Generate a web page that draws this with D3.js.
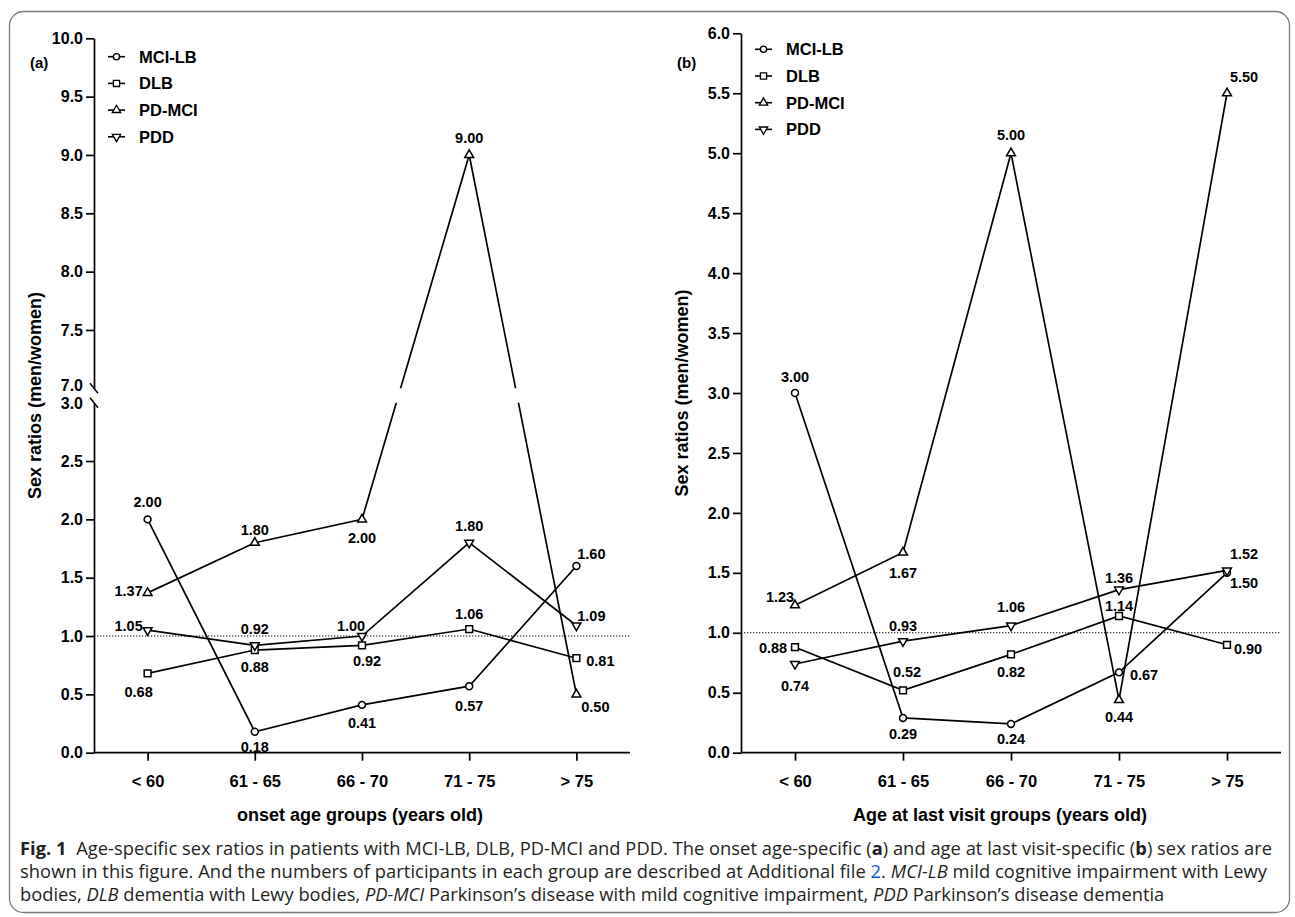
<!DOCTYPE html>
<html>
<head>
<meta charset="utf-8">
<script src="https://cdn.jsdelivr.net/npm/d3@7"></script>
<style>
  html, body { margin: 0; padding: 0; background: #fff; }
  svg { display: block; }
  .ax text { font-family: "Liberation Sans", Arial, sans-serif; font-weight: bold; fill: #000; }
  .cap { font-family: "Open Sans", "Noto Sans", sans-serif; fill: #231f20; white-space: pre; }
</style>
</head>
<body>
<svg id="chart" width="1295" height="917"></svg>
<script>
// ---------- DATA ----------
const categories = ["< 60", "61 - 65", "66 - 70", "71 - 75", "> 75"];
const seriesNames = ["MCI-LB", "DLB", "PD-MCI", "PDD"];

// (a) onset age groups
const onsetMCILB = [2.00, 0.18, 0.41, 0.57, 1.60];
const onsetDLB   = [0.68, 0.88, 0.92, 1.06, 0.81];
const onsetPDMCI = [1.37, 1.80, 2.00, 9.00, 0.50];
const onsetPDD   = [1.05, 0.92, 1.00, 1.80, 1.09];

// (b) age at last visit groups
const lastMCILB = [3.00, 0.29, 0.24, 0.67, 1.50];
const lastDLB   = [0.88, 0.52, 0.82, 1.14, 0.90];
const lastPDMCI = [1.23, 1.67, 5.00, 0.44, 5.50];
const lastPDD   = [0.74, 0.93, 1.06, 1.36, 1.52];

const ticksA_upper = [7.0, 7.5, 8.0, 8.5, 9.0, 9.5, 10.0];
const ticksA_lower = [0.0, 0.5, 1.0, 1.5, 2.0, 2.5, 3.0];
const ticksB = [0.0, 0.5, 1.0, 1.5, 2.0, 2.5, 3.0, 3.5, 4.0, 4.5, 5.0, 5.5, 6.0];

// ---------- LABEL NUDGES (layout, px relative to each point) ----------
const nudgeA = [
  [[0,-18],[0,15],[0,18],[0,20],[15,-12]],
  [[-9,18],[0,17],[5,15],[0,-15],[24,3]],
  [[-19,-2],[0,-13],[0,18],[0,-17],[19,12]],
  [[-19,-4],[0,-17],[-11,-10],[0,-17],[15,-10]]
];
const nudgeB = [
  [[0,-16],[0,16],[0,15],[25,2],[17,10]],
  [[-22,1],[4,-19],[0,17],[0,-10],[21,4]],
  [[-15,-8],[0,20],[0,-18],[0,17],[17,-16]],
  [[0,22],[0,-15],[0,-19],[0,-12],[17,-17]]
];

const svg = d3.select("#chart");

// frame
svg.append("rect").attr("x", 9.5).attr("y", 11.5).attr("width", 1280).attr("height", 901)
  .attr("rx", 14).attr("fill", "none").attr("stroke", "#7a7a7a").attr("stroke-width", 1.3);

// marker shapes
const shapes = [
  d3.symbol(d3.symbolCircle, 38)(),
  d3.symbol(d3.symbolSquare, 46)(),
  d3.symbol(d3.symbolTriangle, 34)(),
  d3.symbol(d3.symbolTriangle, 34)()
];
const rotations = [0, 0, 0, 180];
const legShapes = [
  d3.symbol(d3.symbolCircle, 30)(),
  d3.symbol(d3.symbolSquare, 38)(),
  d3.symbol(d3.symbolTriangle, 30)(),
  d3.symbol(d3.symbolTriangle, 30)()
];

function drawPanel(opt) {
  const g = svg.append("g").attr("class", "ax");
  const x = d3.scalePoint().domain(categories).range([opt.x0, opt.x1]).padding(0.5);
  const y = opt.y;
  const data = opt.series;

  // clip for broken axis
  const clipId = "clip" + opt.id;
  const cp = svg.append("defs").append("clipPath").attr("id", clipId);
  opt.clipRects.forEach(r => cp.append("rect").attr("x", opt.x0).attr("y", r[0]).attr("width", opt.x1 - opt.x0 + 10).attr("height", r[1] - r[0]));

  // reference dotted line at 1.0
  g.append("line").attr("x1", opt.x0).attr("x2", opt.x1).attr("y1", y(1)).attr("y2", y(1))
    .attr("stroke", "#000").attr("stroke-width", 1.1).attr("stroke-dasharray", "1.3,1.7");

  // lines
  const line = d3.line().x((d, i) => x(categories[i])).y(d => y(d));
  const lg = g.append("g").attr("clip-path", `url(#${clipId})`);
  data.forEach(s => {
    lg.append("path").attr("d", line(s)).attr("fill", "none").attr("stroke", "#000").attr("stroke-width", 1.7);
  });

  // markers
  data.forEach((s, k) => {
    g.append("g").selectAll("path").data(s).join("path")
      .attr("d", shapes[k])
      .attr("transform", (d, i) => `translate(${x(categories[i])},${y(d)}) rotate(${rotations[k]})`)
      .attr("fill", "#fff").attr("stroke", "#000").attr("stroke-width", 1.5);
  });

  // value labels
  data.forEach((s, k) => {
    g.append("g").selectAll("text").data(s).join("text")
      .attr("x", (d, i) => x(categories[i]) + opt.nudge[k][i][0])
      .attr("y", (d, i) => y(d) + opt.nudge[k][i][1])
      .attr("dy", "0.36em")
      .attr("text-anchor", "middle")
      .style("font-size", "14.5px")
      .text(d => d.toFixed(2));
  });

  // x axis
  const xa = g.append("g").attr("transform", `translate(0,${opt.yBase})`)
    .call(d3.axisBottom(x).tickSize(8).tickPadding(15).tickSizeOuter(0));
  xa.select(".domain").attr("d", `M${opt.x0},0H${opt.x1}`).attr("stroke-width", 1.7);
  xa.selectAll(".tick line").attr("stroke-width", 1.7);
  xa.selectAll("text").style("font-size", "16.5px");

  // y axis segments
  opt.ySegs.forEach(seg => {
    const ya = g.append("g").attr("transform", `translate(${opt.x0},0)`)
      .call(d3.axisLeft(seg.scale).tickValues(seg.ticks).tickFormat(d3.format(".1f")).tickSize(8).tickPadding(3).tickSizeOuter(0));
    ya.select(".domain").attr("stroke-width", 1.7);
    ya.selectAll(".tick line").attr("stroke-width", 1.7);
    ya.selectAll(".tick").filter(d => seg.noTick && seg.noTick.includes(d)).select("line").remove();
    ya.selectAll(".tick").filter(d => seg.shift && seg.shift[0] === d).select("text").attr("y", seg.shift ? seg.shift[1] : 0);
    ya.selectAll("text").style("font-size", "16px");
  });
  // break marks
  (opt.breaks || []).forEach(v => {
    g.append("line").attr("x1", opt.x0 - 4).attr("y1", y(v) - 5).attr("x2", opt.x0 + 4).attr("y2", y(v) + 5)
      .attr("stroke", "#000").attr("stroke-width", 1.4);
  });

  // axis titles
  g.append("text").attr("transform", `translate(${opt.x0 - 53},${(y(opt.yTop) + opt.yBase) / 2}) rotate(-90)`)
    .attr("text-anchor", "middle").style("font-size", "18px").text("Sex ratios (men/women)");
  g.append("text").attr("x", opt.titleX).attr("y", opt.yBase + 68)
    .attr("text-anchor", "middle").style("font-size", "18px").text(opt.xTitle);

  // panel label
  g.append("text").attr("x", opt.x0 - 64).attr("y", 68).style("font-size", "15px").text(opt.label);

  // legend
  seriesNames.forEach((n, k) => {
    const ly = opt.legY + k * 26.7;
    g.append("line").attr("x1", opt.x0 + 14).attr("x2", opt.x0 + 31).attr("y1", ly).attr("y2", ly)
      .attr("stroke", "#000").attr("stroke-width", 1.6);
    g.append("path").attr("d", legShapes[k]).attr("transform", `translate(${opt.x0 + 22.5},${ly}) rotate(${rotations[k]})`)
      .attr("fill", "#fff").attr("stroke", "#000").attr("stroke-width", 1.3);
    g.append("text").attr("x", opt.x0 + 45).attr("y", ly).attr("dy", "0.36em").style("font-size", "16.5px").text(n);
  });
}

// Panel (a): broken y axis
const yA = d3.scaleLinear().domain([0, 3, 7, 10]).range([752.7, 402.7, 388.3, 38.3]);
drawPanel({
  id: "a", x0: 94, x1: 630, y: yA, yBase: 752.7, yTop: 10,
  series: [onsetMCILB, onsetDLB, onsetPDMCI, onsetPDD], nudge: nudgeA,
  clipRects: [[0, yA(7)], [yA(3), 800]],
  ySegs: [
    { scale: d3.scaleLinear().domain([7, 10]).range([yA(7), yA(10)]), ticks: ticksA_upper, noTick: [7], shift: [7, -2.5] },
    { scale: d3.scaleLinear().domain([0, 3]).range([yA(0), yA(3)]), ticks: ticksA_lower, noTick: [3], shift: [3, 1] }
  ],
  breaks: [7, 3],
  xTitle: "onset age groups (years old)", titleX: 360,
  label: "(a)", legY: 56.7
});

// Panel (b)
const yB = d3.scaleLinear().domain([0, 6]).range([752.7, 33.3]);
drawPanel({
  id: "b", x0: 741, x1: 1281, y: yB, yBase: 752.7, yTop: 6,
  series: [lastMCILB, lastDLB, lastPDMCI, lastPDD], nudge: nudgeB,
  clipRects: [[0, 800]],
  ySegs: [{ scale: yB, ticks: ticksB }],
  xTitle: "Age at last visit groups (years old)", titleX: 1000,
  label: "(b)", legY: 49.3
});

// ---------- CAPTION ----------
const capLines = [
  [["Fig. 1", "b"], ["  Age-specific sex ratios in patients with MCI-LB, DLB, PD-MCI and PDD. The onset age-specific ("], ["a", "b"], [") and age at last visit-specific ("], ["b", "b"], [") sex ratios are"]],
  [["shown in this figure. And the numbers of participants in each group are described at Additional file "], ["2", "link"], [". "], ["MCI-LB", "i"], [" mild cognitive impairment with Lewy"]],
  [["bodies, "], ["DLB", "i"], [" dementia with Lewy bodies, "], ["PD-MCI", "i"], [" Parkinson\u2019s disease with mild cognitive impairment, "], ["PDD", "i"], [" Parkinson\u2019s disease dementia"]]
];
const capBase = [855, 878, 900.5];
const capWidth = [1252, 1247, null];
const capG = svg.append("g");
const capTexts = capLines.map((ln, li) => {
  const t = capG.append("text").attr("class", "cap").attr("x", 20).attr("y", capBase[li]).style("font-size", "16px");
  ln.forEach(([s, f]) => {
    const ts = t.append("tspan").text(s);
    if (f === "b") ts.style("font-weight", "bold");
    if (f === "i") ts.style("font-style", "italic");
    if (f === "link") ts.style("fill", "#1a57c8");
  });
  return t;
});
// fit font size so the last (unjustified) line matches its width
const w3 = capTexts[2].node().getComputedTextLength();
const fs = 16 * 1145 / w3;
capTexts.forEach((t, i) => {
  t.style("font-size", fs + "px");
  if (capWidth[i]) t.attr("textLength", capWidth[i]).attr("lengthAdjust", "spacing");
});
</script>
</body>
</html>
